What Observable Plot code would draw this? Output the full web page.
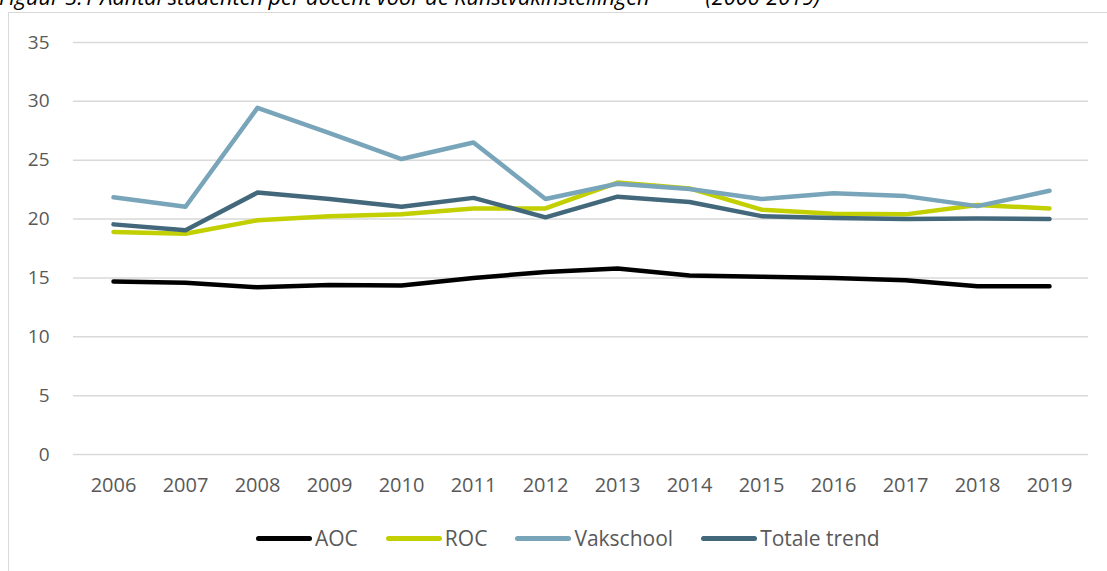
<!DOCTYPE html>
<html>
<head>
<meta charset="utf-8">
<script src="https://cdn.jsdelivr.net/npm/d3@7"></script>
<script src="https://cdn.jsdelivr.net/npm/@observablehq/plot@0.6"></script>
<style>
  html, body { margin: 0; padding: 0; background: #fff; overflow: hidden; }
  #wrap { position: relative; width: 1107px; height: 571px; overflow: hidden; font-family: "Open Sans", sans-serif; }
  #title { position: absolute; left: -1px; top: -18px; font-style: italic; font-size: 21.7px; color: #000; white-space: nowrap; line-height: 29px; }
  #frame { position: absolute; left: 8px; top: 12px; width: 1200px; height: 700px; border: 1.5px solid #d9d9d9; box-sizing: border-box; }
  #chart { position: absolute; left: 0; top: 0; }
  #legend { position: absolute; left: 256px; top: 524px; display: flex; align-items: center; font-size: 21px; color: #595959; line-height: 28px; }
  .item { display: flex; align-items: center; margin-right: 28px; }
  .sw { width: 56px; height: 5px; border-radius: 3px; margin-right: 3px; }
</style>
</head>
<body>
<div id="wrap">
  <div id="frame"></div>
  <div id="title">Figuur 3.1 Aantal studenten per docent voor de Kunstvakinstellingen<span style="display:inline-block;width:56px"></span>(2006-2019)</div>
  <div id="chart"></div>
  <div id="legend"></div>
</div>
<script>
const years = [2006, 2007, 2008, 2009, 2010, 2011, 2012, 2013, 2014, 2015, 2016, 2017, 2018, 2019];
const seriesNames = ["AOC", "ROC", "Vakschool", "Totale trend"];
const seriesColors = ["#000000", "#c2cf00", "#78a5b9", "#43687b"];
const aoc = [14.7, 14.6, 14.2, 14.4, 14.35, 15.0, 15.5, 15.8, 15.2, 15.1, 15.0, 14.8, 14.3, 14.3];
const roc = [18.9, 18.75, 19.9, 20.25, 20.4, 20.9, 20.9, 23.1, 22.6, 20.8, 20.45, 20.4, 21.2, 20.9];
const vakschool = [21.85, 21.05, 29.45, 27.3, 25.1, 26.5, 21.7, 23.0, 22.55, 21.7, 22.2, 21.95, 21.1, 22.4];
const totaal = [19.55, 19.05, 22.25, 21.7, 21.05, 21.8, 20.15, 21.9, 21.45, 20.25, 20.1, 20.0, 20.05, 20.0];
const yTicks = [0, 5, 10, 15, 20, 25, 30, 35];

const seriesValues = [aoc, roc, vakschool, totaal];
const data = [];
seriesNames.forEach((s, i) => years.forEach((y, j) => data.push({series: s, year: y, value: seriesValues[i][j]})));

const chart = Plot.plot({
  width: 1107,
  height: 505,
  marginLeft: 73,
  marginRight: 19,
  marginTop: 42,
  marginBottom: 51,
  style: { fontFamily: "Open Sans, sans-serif", color: "#595959", background: "transparent", overflow: "visible" },
  x: { type: "point", domain: years, padding: 0.5, label: null },
  y: { domain: [0, 35], label: null },
  color: { domain: seriesNames, range: seriesColors },
  marks: [
    Plot.gridY(yTicks, { stroke: "#d9d9d9", strokeOpacity: 1, strokeWidth: 1.5 }),
    Plot.axisY(yTicks, { tickSize: 0, tickPadding: 24, fontSize: 19, label: null }),
    Plot.axisX(years, { tickSize: 0, tickPadding: 23, fontSize: 20, tickFormat: d => String(d), label: null }),
    Plot.line(data, { x: "year", y: "value", z: "series", stroke: "series", strokeWidth: 4.5, strokeLinecap: "round", strokeLinejoin: "round" })
  ]
});
document.getElementById("chart").appendChild(chart);

const legend = document.getElementById("legend");
seriesNames.forEach((s, i) => {
  const item = document.createElement("div");
  item.className = "item";
  const sw = document.createElement("div");
  sw.className = "sw";
  sw.style.background = seriesColors[i];
  const t = document.createElement("span");
  t.textContent = s;
  item.appendChild(sw);
  item.appendChild(t);
  legend.appendChild(item);
});
</script>
</body>
</html>
